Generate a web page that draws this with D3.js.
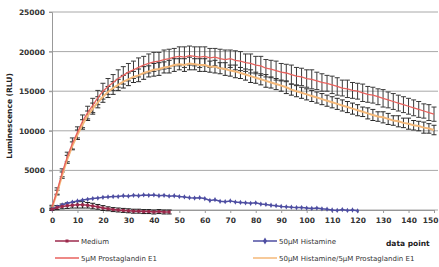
<!DOCTYPE html>
<html>
<head>
<meta charset="utf-8">
<script src="https://cdn.jsdelivr.net/npm/d3@7"></script>
<style>
  body { margin: 0; background: #fff; }
  svg { display: block; font-family: "DejaVu Sans", sans-serif; }
</style>
</head>
<body>
<div id="plot"></div>
<script>
// x values are data points 0..150 in steps of 2
const xStep = 2
const yTicks = [0, 5000, 10000, 15000, 20000, 25000]
const xTicks = [0, 10, 20, 30, 40, 50, 60, 70, 80, 90, 100, 110, 120, 130, 140, 150]

const medium = [100, 300, 450, 550, 600, 650, 650, 600, 500, 400, 250, 150, 50, 0, -50, -100,
  -150, -150, -200, -200, -250, -200, -250, -250]
const mediumErr = [150, 250, 300, 350, 350, 400, 400, 350, 350, 300, 300, 250, 250, 250, 250, 250,
  250, 250, 250, 250, 250, 250, 250, 250]

const histamine = [100, 400, 650, 850, 1000, 1150, 1250, 1350, 1450, 1500, 1600, 1650, 1700, 1700,
  1800, 1750, 1850, 1800, 1900, 1850, 1900, 1800, 1850, 1750, 1800, 1700, 1650, 1550, 1500, 1550,
  1450, 1200, 1300, 1100, 1050, 1150, 1000, 950, 900, 850, 900, 750, 700, 600, 550, 450, 400, 350,
  300, 300, 250, 200, 250, 150, 100, 0, -50, 50, -50, 0, -100]

const pge1 = [400, 2400, 4700, 6700, 8400, 9800, 11200, 12300, 13200, 14200, 15000, 15600, 16100,
  16600, 17000, 17400, 17700, 18000, 18300, 18500, 18700, 18800, 19000, 19100, 19300, 19400, 19300,
  19500, 19400, 19300, 19400, 19200, 19300, 19100, 19000, 19100, 18900, 18800, 18600, 18500, 18300,
  18200, 17900, 17800, 17600, 17400, 17300, 17100, 16900, 16800, 16600, 16500, 16300, 16100, 16000,
  15800, 15600, 15400, 15300, 15100, 15000, 14800, 14600, 14500, 14300, 14100, 13900, 13700, 13500,
  13300, 13100, 12900, 12700, 12500, 12300, 12100]
const pge1Err = [200, 400, 500, 600, 700, 700, 800, 800, 900, 900, 1000, 1000, 1000, 1100, 1100,
  1100, 1100, 1200, 1100, 1200, 1200, 1100, 1200, 1200, 1100, 1200, 1300, 1200, 1200, 1300, 1200,
  1200, 1100, 1200, 1200, 1100, 1200, 1200, 1100, 1200, 1100, 1200, 1100, 1100, 1200, 1100, 1100,
  1200, 1100, 1100, 1100, 1200, 1100, 1100, 1000, 1100, 1100, 1000, 1100, 1000, 1000, 1100, 1000,
  1000, 1000, 1100, 1000, 1000, 1000, 1000, 1000, 1000, 1000, 900, 1000, 900]

const histPge1 = [300, 2200, 4400, 6400, 8100, 9500, 10800, 11900, 12800, 13600, 14300, 14900, 15400,
  15800, 16200, 16500, 16800, 17000, 17300, 17500, 17700, 17800, 18000, 18100, 18300, 18400, 18300,
  18500, 18400, 18300, 18300, 18100, 18100, 17900, 17800, 17600, 17500, 17300, 17100, 16900, 16700,
  16500, 16300, 16100, 15900, 15700, 15500, 15200, 15000, 14800, 14600, 14400, 14200, 14000, 13800,
  13600, 13400, 13200, 13000, 12800, 12600, 12400, 12200, 12000, 11800, 11700, 11500, 11300, 11200,
  11000, 10900, 10700, 10600, 10400, 10300, 10100]
const histPge1Err = [200, 300, 400, 500, 500, 600, 600, 600, 700, 700, 700, 700, 800, 700, 800, 800,
  700, 800, 800, 700, 800, 800, 700, 800, 800, 700, 800, 800, 700, 800, 800, 700, 800, 700, 800, 700,
  800, 700, 700, 800, 700, 700, 800, 700, 700, 700, 800, 700, 700, 700, 700, 700, 700, 700, 700, 700,
  700, 700, 700, 700, 700, 600, 700, 700, 600, 700, 700, 600, 700, 600, 700, 600, 600, 700, 600, 600]

const seriesNames = ['Medium', '50µM Histamine', '5µM Prostaglandin E1', '50µM Histamine/5µM Prostaglandin E1']
const colors = ['#9c2a4c', '#4e4ea2', '#e8625e', '#f4b879']

const toPoints = (arr, err) => arr.map((v, i) => ({x: i * xStep, v: v, e: err ? err[i] : 0}))

const W = 439, H = 267
const margin = {left: 52, right: 4, top: 12, bottom: 57}

const svg = d3.select('#plot').append('svg')
  .attr('width', W).attr('height', H)

const x = d3.scaleLinear().domain([0, 150]).range([margin.left, W - margin.right - 1])
const y = d3.scaleLinear().domain([0, 25000]).range([H - margin.bottom, margin.top])

// grid lines
svg.append('g')
  .selectAll('line')
  .data(yTicks)
  .enter().append('line')
    .attr('x1', margin.left - 3).attr('x2', W - 1)
    .attr('y1', d => y(d)).attr('y2', d => y(d))
    .attr('stroke', '#a8a8a8').attr('stroke-width', 1)

// y axis
const yAxis = svg.append('g')
  .attr('transform', `translate(${margin.left},0)`)
  .call(d3.axisLeft(y).tickValues(yTicks).tickSize(3).tickPadding(4).tickFormat(d3.format('d')))
yAxis.select('.domain').attr('stroke', '#999')
yAxis.selectAll('line').attr('stroke', '#999')
yAxis.selectAll('text').attr('font-size', 7.5).attr('font-weight', 'bold').attr('fill', '#333')
  .attr('font-family', '"DejaVu Sans", sans-serif')

// x axis
const xAxis = svg.append('g')
  .attr('transform', `translate(0,${y(0)})`)
  .call(d3.axisBottom(x).tickValues(xTicks).tickSize(3).tickPadding(5))
xAxis.select('.domain').attr('stroke', '#999')
xAxis.selectAll('line').attr('stroke', '#999')
xAxis.selectAll('text').attr('font-size', 7.5).attr('font-weight', 'bold').attr('fill', '#333')
  .attr('font-family', '"DejaVu Sans", sans-serif')
// last label sits at the right edge; keep it inside the picture
xAxis.selectAll('.tick:last-of-type text').attr('text-anchor', 'end').attr('dx', 4)

// y axis title
svg.append('text')
  .attr('transform', `translate(12,${(y(0) + y(25000)) / 2 + 5}) rotate(-90)`)
  .attr('text-anchor', 'middle')
  .attr('font-size', 7.5).attr('font-weight', 'bold').attr('fill', '#222')
  .text('Luminescence (RLU)')

const line = d3.line().x(d => x(d.x)).y(d => y(d.v))

const drawErr = function(pts, color) {
  const g = svg.append('g').attr('stroke', color).attr('stroke-width', 1)
  g.selectAll('line.v').data(pts).enter().append('line')
    .attr('x1', d => x(d.x)).attr('x2', d => x(d.x))
    .attr('y1', d => y(d.v - d.e)).attr('y2', d => y(d.v + d.e))
  g.selectAll('line.t').data(pts).enter().append('line')
    .attr('x1', d => x(d.x) - 2.5).attr('x2', d => x(d.x) + 2.5)
    .attr('y1', d => y(d.v + d.e)).attr('y2', d => y(d.v + d.e))
  g.selectAll('line.b').data(pts).enter().append('line')
    .attr('x1', d => x(d.x) - 2.5).attr('x2', d => x(d.x) + 2.5)
    .attr('y1', d => y(d.v - d.e)).attr('y2', d => y(d.v - d.e))
}

const pPge1 = toPoints(pge1, pge1Err)
const pHist = toPoints(histPge1, histPge1Err)
const pMed = toPoints(medium, mediumErr)
const pHis = toPoints(histamine)

// error bars first, then the lines on top
drawErr(pHist, '#2a2a2a')
drawErr(pPge1, '#3a3a3a')
drawErr(pMed, '#1a1a1a')

svg.append('path').datum(pHist).attr('d', line)
  .attr('fill', 'none').attr('stroke', colors[3]).attr('stroke-width', 2)
svg.append('path').datum(pPge1).attr('d', line)
  .attr('fill', 'none').attr('stroke', colors[2]).attr('stroke-width', 1.3)

svg.append('path').datum(pHis).attr('d', line)
  .attr('fill', 'none').attr('stroke', colors[1]).attr('stroke-width', 1.5)
svg.selectAll('.dia').data(pHis).enter().append('path')
  .attr('d', d3.symbol().type(d3.symbolDiamond).size(8))
  .attr('transform', d => `translate(${x(d.x)},${y(d.v)})`)
  .attr('fill', colors[1])

svg.append('path').datum(pMed).attr('d', line)
  .attr('fill', 'none').attr('stroke', colors[0]).attr('stroke-width', 1.5)
svg.selectAll('.sq').data(pMed).enter().append('rect')
  .attr('x', d => x(d.x) - 1.5).attr('y', d => y(d.v) - 1.5)
  .attr('width', 3).attr('height', 3)
  .attr('fill', colors[0])

// legend
const legendPos = [[55, 241], [253, 241], [55, 258], [253, 258]]
seriesNames.forEach(function(name, i) {
  const [lx, ly] = legendPos[i]
  svg.append('line')
    .attr('x1', lx).attr('x2', lx + 24).attr('y1', ly).attr('y2', ly)
    .attr('stroke', colors[i]).attr('stroke-width', 1.5)
  if (i === 0) {
    svg.append('rect').attr('x', lx + 10.5).attr('y', ly - 1.5).attr('width', 3).attr('height', 3)
      .attr('fill', colors[0])
  }
  if (i === 1) {
    svg.append('path').attr('d', d3.symbol().type(d3.symbolDiamond).size(14)())
      .attr('transform', `translate(${lx + 12},${ly})`).attr('fill', colors[1])
  }
  svg.append('text')
    .attr('x', lx + 26).attr('y', ly + 2.5)
    .attr('font-size', 7).attr('fill', '#333')
    .text(name)
})

svg.append('text')
  .attr('x', 386).attr('y', 246)
  .attr('font-size', 7.5).attr('font-weight', 'bold').attr('fill', '#222')
  .text('data point')
</script>
</body>
</html>
